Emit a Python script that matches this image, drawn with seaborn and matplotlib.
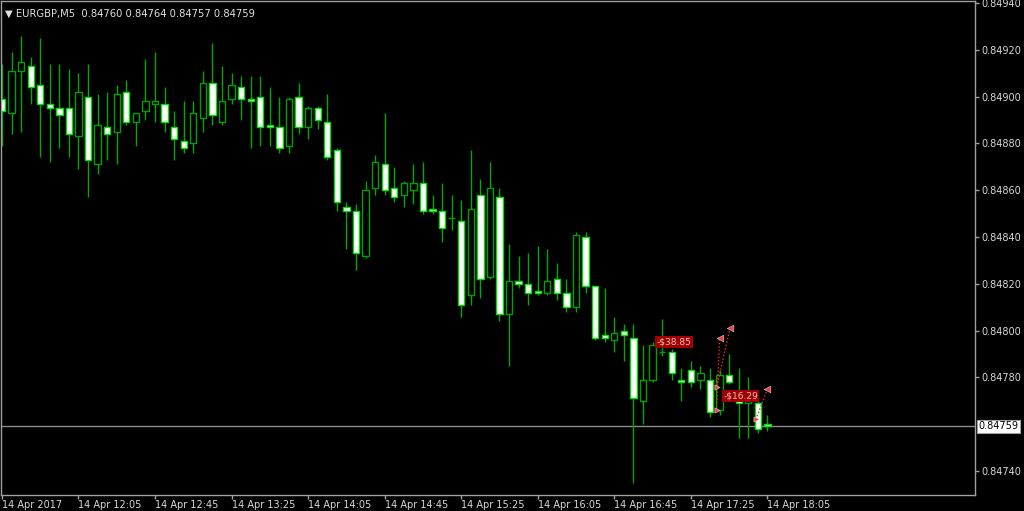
import numpy as np
import pandas as pd
import matplotlib
matplotlib.use("Agg")
import matplotlib.pyplot as plt
import seaborn as sns

# EURGBP M5 bars, 14 Apr 2017 11:25 .. 18:05
opens = [0.84899, 0.84893, 0.84911, 0.84913, 0.84905, 0.84897, 0.84895, 0.84895, 0.84883, 0.84900,
         0.84871, 0.84887, 0.84885, 0.84902, 0.84889, 0.84894, 0.84897, 0.84897, 0.84887, 0.84881,
         0.84880, 0.84891, 0.84906, 0.84889, 0.84899, 0.84904, 0.84899, 0.84900, 0.84888, 0.84887,
         0.84879, 0.84900, 0.84887, 0.84895, 0.84889, 0.84877, 0.84853, 0.84851, 0.84832, 0.84861,
         0.84871, 0.84861, 0.84858, 0.84860, 0.84863, 0.84852, 0.84851, 0.84848, 0.84847, 0.84815,
         0.84858, 0.84823, 0.84857, 0.84807, 0.84821, 0.84820, 0.84817, 0.84816, 0.84822, 0.84816,
         0.84810, 0.84840, 0.84819, 0.84798, 0.84796, 0.84800, 0.84797, 0.84770, 0.84779, 0.84791,
         0.84791, 0.84779, 0.84783, 0.84779, 0.84779, 0.84766, 0.84781, 0.84774, 0.84769, 0.84769,
         0.84760]
highs = [0.84914, 0.84919, 0.84926, 0.84917, 0.84925, 0.84914, 0.84914, 0.84912, 0.84910, 0.84914,
         0.84901, 0.84902, 0.84905, 0.84907, 0.84893, 0.84916, 0.84919, 0.84904, 0.84894, 0.84898,
         0.84898, 0.84911, 0.84923, 0.84913, 0.84910, 0.84909, 0.84909, 0.84909, 0.84904, 0.84900,
         0.84900, 0.84906, 0.84896, 0.84896, 0.84901, 0.84878, 0.84855, 0.84854, 0.84864, 0.84875,
         0.84893, 0.84870, 0.84864, 0.84871, 0.84872, 0.84858, 0.84863, 0.84858, 0.84856, 0.84877,
         0.84865, 0.84872, 0.84861, 0.84837, 0.84832, 0.84833, 0.84836, 0.84835, 0.84829, 0.84822,
         0.84842, 0.84842, 0.84819, 0.84818, 0.84806, 0.84803, 0.84803, 0.84794, 0.84795, 0.84805,
         0.84792, 0.84784, 0.84787, 0.84785, 0.84784, 0.84783, 0.84790, 0.84784, 0.84780, 0.84772,
         0.84764]
lows = [0.84879, 0.84884, 0.84885, 0.84897, 0.84874, 0.84872, 0.84878, 0.84874, 0.84869, 0.84857,
        0.84867, 0.84873, 0.84871, 0.84888, 0.84879, 0.84890, 0.84889, 0.84885, 0.84873, 0.84876,
        0.84876, 0.84885, 0.84888, 0.84888, 0.84897, 0.84890, 0.84878, 0.84879, 0.84879, 0.84876,
        0.84876, 0.84884, 0.84882, 0.84886, 0.84873, 0.84851, 0.84835, 0.84826, 0.84831, 0.84858,
        0.84858, 0.84855, 0.84853, 0.84854, 0.84850, 0.84850, 0.84838, 0.84843, 0.84806, 0.84811,
        0.84814, 0.84822, 0.84804, 0.84785, 0.84818, 0.84811, 0.84815, 0.84815, 0.84813, 0.84808,
        0.84808, 0.84816, 0.84796, 0.84795, 0.84791, 0.84787, 0.84735, 0.84760, 0.84778, 0.84789,
        0.84779, 0.84770, 0.84776, 0.84775, 0.84763, 0.84764, 0.84777, 0.84754, 0.84754, 0.84756,
        0.84757]
closes = [0.84894, 0.84911, 0.84915, 0.84904, 0.84897, 0.84895, 0.84892, 0.84884, 0.84902, 0.84873,
          0.84888, 0.84884, 0.84901, 0.84889, 0.84893, 0.84898, 0.84898, 0.84889, 0.84882, 0.84878,
          0.84893, 0.84906, 0.84892, 0.84898, 0.84905, 0.84899, 0.84898, 0.84887, 0.84887, 0.84878,
          0.84899, 0.84887, 0.84895, 0.84890, 0.84874, 0.84855, 0.84851, 0.84833, 0.84860, 0.84872,
          0.84860, 0.84857, 0.84863, 0.84863, 0.84851, 0.84851, 0.84844, 0.84848, 0.84811, 0.84852,
          0.84822, 0.84861, 0.84807, 0.84821, 0.84820, 0.84816, 0.84816, 0.84821, 0.84816, 0.84810,
          0.84841, 0.84819, 0.84797, 0.84797, 0.84799, 0.84798, 0.84771, 0.84779, 0.84794, 0.84791,
          0.84782, 0.84778, 0.84778, 0.84782, 0.84765, 0.84781, 0.84778, 0.84769, 0.84772, 0.84758,
          0.84759]

time_tick_bars = [0, 8, 16, 24, 32, 40, 48, 56, 64, 72, 80]
time_tick_labels = ["14 Apr 2017", "14 Apr 12:05", "14 Apr 12:45", "14 Apr 13:25", "14 Apr 14:05",
                    "14 Apr 14:45", "14 Apr 15:25", "14 Apr 16:05", "14 Apr 16:45", "14 Apr 17:25",
                    "14 Apr 18:05"]
# the 0.84760 level is hidden behind the current price box
price_ticks = [0.84740, 0.84780, 0.84800, 0.84820, 0.84840, 0.84860, 0.84880, 0.84900,
               0.84920, 0.84940]
last_price = 0.84759
title = "\u25BC EURGBP,M5  0.84760 0.84764 0.84757 0.84759"

# trade arrows: open marks, close marks and their profit labels
trade_open_bar = [74.7, 74.7, 78.8]
trade_open_price = [0.84766, 0.84776, 0.84762]
trade_close_bar = [75.0, 76.1, 80.0]
trade_close_price = [0.84797, 0.84801, 0.84775]
profit_text = ["-$38.85", "-$16.29"]
profit_bar = [68.4, 75.4]
profit_price = [0.84795, 0.84772]

df = pd.DataFrame({"open": opens, "high": highs, "low": lows, "close": closes})
df["bar"] = np.arange(len(df))
df["bull"] = df["close"] >= df["open"]

sns.set_style("dark", {"axes.facecolor": "black", "figure.facecolor": "black",
                       "axes.edgecolor": "#a0a0a0", "text.color": "#d8d8d8",
                       "xtick.color": "#d8d8d8", "ytick.color": "#d8d8d8"})
plt.rcParams["font.family"] = ["DejaVu Sans"]

fig = plt.figure(figsize=(10.24, 5.11), dpi=100)
ax = fig.add_axes([1 / 1024, 1 - 495 / 511, 974 / 1024, 494 / 511])

wick = "#00a800"
ax.vlines(df["bar"], df["low"], df["high"], color=wick, lw=1, zorder=1)

body_lo = df[["open", "close"]].min(axis=1)
body_h = (df["close"] - df["open"]).abs()
ax.bar(df["bar"], body_h, bottom=body_lo, width=0.66,
       color=np.where(df["bull"], "black", "white"),
       edgecolor=np.where(df["bull"], "#00a000", "#00e000"), lw=1, zorder=2)

# current price line
ax.axhline(last_price, color="#8c8c8c", lw=1, zorder=0)

# trades
for i in range(len(trade_open_bar)):
    ax.plot([trade_open_bar[i], trade_close_bar[i]], [trade_open_price[i], trade_close_price[i]],
            color="#e03030", lw=1, ls=(0, (1, 1.5)), zorder=3)
sns.scatterplot(x=trade_open_bar, y=trade_open_price, marker=">", color="#ff3a3a", s=14,
                edgecolor="#d0d0d0", linewidth=0.4, ax=ax, zorder=4)
sns.scatterplot(x=trade_close_bar, y=trade_close_price, marker="<", color="#ff3a3a", s=22,
                edgecolor="#d0d0d0", linewidth=0.4, ax=ax, zorder=4)
for t, b, p in zip(profit_text, profit_bar, profit_price):
    ax.text(b, p, t, fontsize=6.5, color="#f0c0c0", va="center", ha="left", zorder=5,
            bbox=dict(boxstyle="square,pad=0.15", fc="#a00000", ec="none"))

ax.set_xlim(-0.1, 101.7)
ax.set_ylim(0.847297, 0.849409)

ax.yaxis.tick_right()
ax.set_yticks(price_ticks)
ax.set_yticklabels([f"{v:.5f}" for v in price_ticks])
ax.set_xticks(time_tick_bars)
ax.set_xticklabels(time_tick_labels, ha="left")
ax.tick_params(axis="both", labelsize=7, length=3, width=1, color="#a0a0a0",
               direction="out", bottom=True, right=True, left=False)
ax.tick_params(axis="x", pad=0.5)
ax.tick_params(axis="y", pad=1.5)
ax.grid(False)
for s in ax.spines.values():
    s.set_color("#a0a0a0")
    s.set_linewidth(1)

ax.annotate(f"{last_price:.5f}", xy=(1.0, last_price), xycoords=("axes fraction", "data"),
            xytext=(2.5, 0), textcoords="offset points", fontsize=7, color="black",
            va="center", ha="left",
            bbox=dict(boxstyle="square,pad=0.2", fc="white", ec="#a0a0a0", lw=0.8))

ax.text(0.004, 0.985, title, transform=ax.transAxes, fontsize=7.2, color="#e0e0e0",
        va="top", ha="left")

fig.savefig("out.png", dpi=100, facecolor="black")
